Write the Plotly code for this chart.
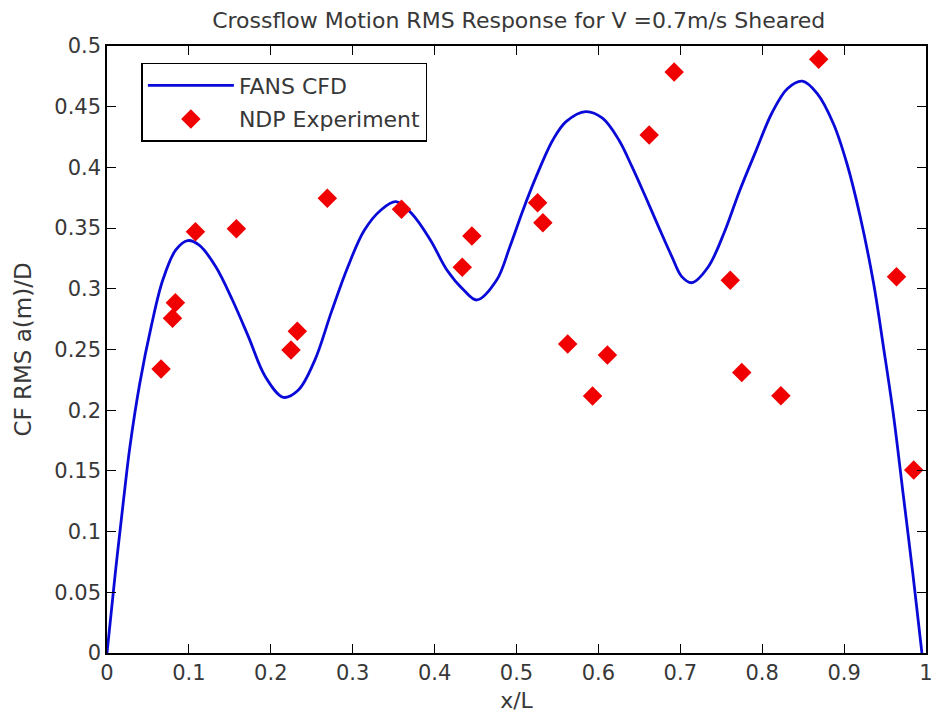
import plotly.graph_objects as go

# FANS CFD curve
cfd_x = [0, 0.01, 0.02, 0.028, 0.04, 0.054, 0.068, 0.084, 0.0985, 0.1126, 0.133, 0.153, 0.173, 0.193,
         0.2155, 0.2337, 0.2538, 0.274, 0.294, 0.314, 0.3345, 0.3527, 0.372, 0.395, 0.415, 0.4355,
         0.4516, 0.4758, 0.4919, 0.508, 0.524, 0.5444, 0.5605, 0.5847, 0.605, 0.625, 0.641, 0.6574,
         0.6735, 0.6897, 0.7018, 0.714, 0.734, 0.754, 0.772, 0.792, 0.812, 0.831, 0.849, 0.867, 0.887,
         0.9035, 0.9197, 0.936, 0.948, 0.960, 0.972, 0.984, 0.995]
cfd_y = [0, 0.065, 0.125, 0.170, 0.222, 0.269, 0.307, 0.332, 0.3397, 0.336, 0.318, 0.291, 0.260, 0.228,
         0.2106, 0.2166, 0.2413, 0.281, 0.318, 0.348, 0.3649, 0.3718, 0.362, 0.340, 0.3155, 0.299,
         0.2908, 0.3072, 0.3347, 0.365, 0.3924, 0.4226, 0.4377, 0.446, 0.4405, 0.4226, 0.4006, 0.376,
         0.351, 0.3265, 0.310, 0.305, 0.318, 0.347, 0.380, 0.413, 0.445, 0.465, 0.471, 0.461, 0.436,
         0.403, 0.3594, 0.3045, 0.2523, 0.1974, 0.1315, 0.065, 0.0]

# NDP Experiment points
exp_x = [0.066, 0.0835, 0.080, 0.108, 0.158, 0.269, 0.2324, 0.2247, 0.3596, 0.4455, 0.4338, 0.5258,
         0.5322, 0.5625, 0.611, 0.5929, 0.662, 0.6925, 0.869, 0.761, 0.964, 0.775, 0.8228, 0.985]
exp_y = [0.234, 0.2886, 0.2757, 0.347, 0.3495, 0.3745, 0.265, 0.2496, 0.3655, 0.3435, 0.3177, 0.3709,
         0.3545, 0.2545, 0.2455, 0.2117, 0.4267, 0.4786, 0.489, 0.307, 0.310, 0.231, 0.212, 0.1507]

x_ticks = [0, 0.1, 0.2, 0.3, 0.4, 0.5, 0.6, 0.7, 0.8, 0.9, 1]
y_ticks = [0, 0.05, 0.1, 0.15, 0.2, 0.25, 0.3, 0.35, 0.4, 0.45, 0.5]

FONT = "DejaVu Sans"
TXT = "#383838"

fig = go.Figure()
fig.add_trace(go.Scatter(x=cfd_x, y=cfd_y, mode="lines", name="FANS CFD", legendgroup="a",
                         line=dict(color="#0a0ad8", width=2.8, shape="spline", smoothing=1.0)))
fig.add_trace(go.Scatter(x=exp_x, y=exp_y, mode="markers", name="NDP Experiment", legendgroup="b",
                         marker=dict(symbol="diamond", color="#f00000", size=15,
                                     line=dict(width=0))))

axis_common = dict(showline=True, linecolor="black", linewidth=1.5, mirror="ticks",
                   ticks="inside", ticklen=9, tickwidth=1.2, tickcolor="black",
                   showgrid=False, zeroline=False,
                   tickfont=dict(family=FONT, size=21, color=TXT))

fig.update_layout(
    width=938, height=715,
    margin=dict(l=107, r=5, t=46, b=62),
    paper_bgcolor="white", plot_bgcolor="white",
    title=dict(text="Crossflow Motion RMS Response for V =0.7m/s Sheared",
               x=0.553, xanchor="center", y=0.972, yanchor="middle",
               font=dict(family=FONT, size=22, color=TXT)),
    xaxis=dict(range=[0, 1], tickvals=x_ticks, ticktext=[f"{v:g}" for v in x_ticks],
               title=dict(text="x/L", font=dict(family=FONT, size=22, color=TXT), standoff=9),
               **axis_common),
    yaxis=dict(range=[0, 0.5], tickvals=y_ticks, ticktext=[f"{v:g}" for v in y_ticks],
               title=dict(text="CF RMS a(m)/D", font=dict(family=FONT, size=23, color=TXT), standoff=16),
               **axis_common),
    legend=dict(x=0.042, y=0.972, xanchor="left", yanchor="top",
                bgcolor="white", bordercolor="black", borderwidth=1.5,
                font=dict(family=FONT, size=22, color=TXT),
                itemwidth=86, traceorder="grouped", tracegroupgap=2),
    showlegend=True,
)

fig.write_html("out.html")
